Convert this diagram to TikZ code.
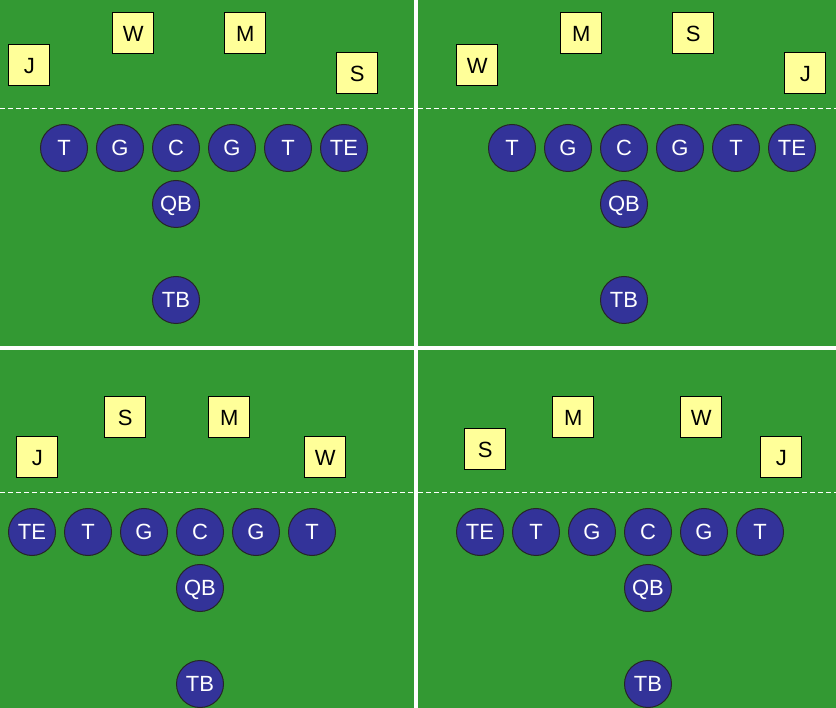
\documentclass[tikz,border=0pt]{standalone}
\usepackage{fontspec}
\setmainfont{Liberation Sans}
\usetikzlibrary{positioning}
\definecolor{field}{HTML}{339933}
\definecolor{offcol}{HTML}{333399}
\definecolor{defcol}{HTML}{FFFF99}
\tikzset{
	offense/.style={circle, draw=black!85, line width=1pt, fill=offcol, text=white, minimum size=47pt, inner sep=0pt, font=\fontsize{22}{26}\selectfont, text height=15.75pt, text depth=0pt},
	defense/.style={rectangle, draw=black, line width=1pt, fill=defcol, text=black, minimum size=41pt, inner sep=0pt, font=\fontsize{22}{26}\selectfont, text height=15.75pt, text depth=0pt},
	scrimmage/.style={draw=white, line width=1pt, dash pattern=on 5pt off 3pt}
}
\begin{document}
	\begin{tikzpicture}[x=1pt, y=-1pt]
		\useasboundingbox (0,0) rectangle (836,708);
		\fill[field] (0,0) rectangle (836,708);
		\fill[white] (414,0) rectangle (418,708);
		\fill[white] (0,346) rectangle (836,350);
		\draw[scrimmage] (0,108.5) -- (414,108.5);
		\draw[scrimmage] (418,108.5) -- (836,108.5);
		\draw[scrimmage] (0,492.5) -- (414,492.5);
		\draw[scrimmage] (418,492.5) -- (836,492.5);
		% top left
		\foreach \lab [count=\i] in {T,G,C,G,T,TE}
			\node[offense] (a-\i) at ({8+56*\i},148) {\lab};
		\node[offense, below=8pt of a-3] (a-qb) {QB};
		\node[offense, below=48pt of a-qb] (a-tb) {TB};
		\node[defense] (a-j) at (29.3,65.3) {J};
		\node[defense] (a-w) at (133.3,33.3) {W};
		\node[defense] (a-m) at (245.3,33.3) {M};
		\node[defense] (a-s) at (357.3,73.3) {S};
		% top right
		\foreach \lab [count=\i] in {T,G,C,G,T,TE}
			\node[offense] (b-\i) at ({456+56*\i},148) {\lab};
		\node[offense, below=8pt of b-3] (b-qb) {QB};
		\node[offense, below=48pt of b-qb] (b-tb) {TB};
		\node[defense] (b-w) at (477.3,65.3) {W};
		\node[defense] (b-m) at (581.3,33.3) {M};
		\node[defense] (b-s) at (693.3,33.3) {S};
		\node[defense] (b-j) at (805.3,73.3) {J};
		% bottom left
		\foreach \lab [count=\i] in {TE,T,G,C,G,T}
			\node[offense] (c-\i) at ({-24+56*\i},532) {\lab};
		\node[offense, below=8pt of c-4] (c-qb) {QB};
		\node[offense, below=48pt of c-qb] (c-tb) {TB};
		\node[defense] (c-j) at (37.3,457.3) {J};
		\node[defense] (c-s) at (125.3,417.3) {S};
		\node[defense] (c-m) at (229.3,417.3) {M};
		\node[defense] (c-w) at (325.3,457.3) {W};
		% bottom right
		\foreach \lab [count=\i] in {TE,T,G,C,G,T}
			\node[offense] (d-\i) at ({424+56*\i},532) {\lab};
		\node[offense, below=8pt of d-4] (d-qb) {QB};
		\node[offense, below=48pt of d-qb] (d-tb) {TB};
		\node[defense] (d-s) at (485.3,449.3) {S};
		\node[defense] (d-m) at (573.3,417.3) {M};
		\node[defense] (d-w) at (701.3,417.3) {W};
		\node[defense] (d-j) at (781.3,457.3) {J};
	\end{tikzpicture}
\end{document}
